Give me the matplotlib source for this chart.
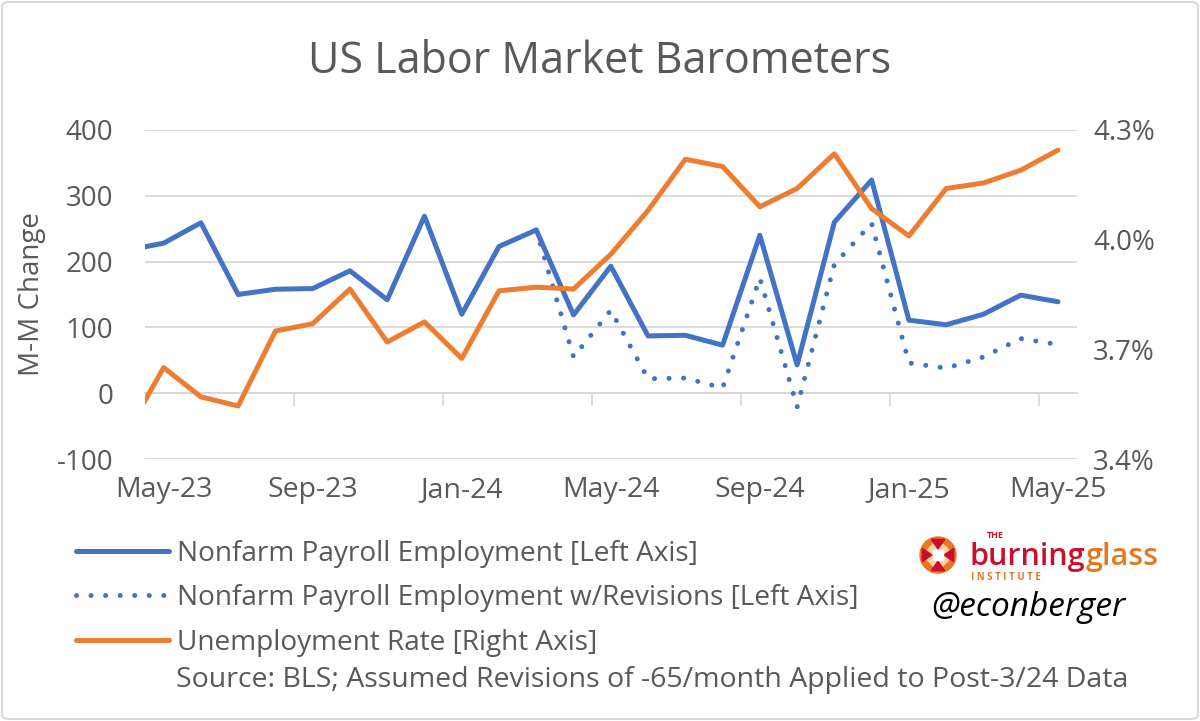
import matplotlib
matplotlib.use("Agg")
import matplotlib.pyplot as plt
from matplotlib.lines import Line2D
from matplotlib.patches import FancyBboxPatch, Circle, RegularPolygon, Polygon
import numpy as np

# data: Apr-23 .. May-25 (Apr-23 sits just outside the left edge)
months = ["Apr-23", "May-23", "Jun-23", "Jul-23", "Aug-23", "Sep-23", "Oct-23", "Nov-23",
          "Dec-23", "Jan-24", "Feb-24", "Mar-24", "Apr-24", "May-24", "Jun-24", "Jul-24",
          "Aug-24", "Sep-24", "Oct-24", "Nov-24", "Dec-24", "Jan-25", "Feb-25", "Mar-25",
          "Apr-25", "May-25"]
nfp = [217, 228, 259, 150, 158, 159, 186, 142, 269, 120, 223, 248, 119,
       193, 87, 88, 73, 240, 43, 260, 324, 111, 104, 120, 149, 139]
nfp_rev = [np.nan] * 11 + [248, 55, 126, 22, 23, 8, 175, -21, 196, 258, 46, 38, 55, 83, 74]
unemp = [3.47, 3.65, 3.57, 3.545, 3.75, 3.77, 3.865, 3.72, 3.775, 3.675, 3.86, 3.87, 3.865,
         3.96, 4.08, 4.22, 4.20, 4.09, 4.14, 4.235, 4.085, 4.01, 4.14, 4.155, 4.19, 4.245]
tick_labels = ["May-23", "Sep-23", "Jan-24", "May-24", "Sep-24", "Jan-25", "May-25"]

blue = "#4472C4"
orange = "#ED7D31"
grey_txt = "#595959"
grid_c = "#D9D9D9"

plt.rcParams['font.family'] = ['Open Sans', 'DejaVu Sans']
plt.rcParams['axes.unicode_minus'] = False

W, H = 1200, 721
fig = plt.figure(figsize=(W / 100, H / 100), dpi=100)

def px(x, y):
    return x / W, 1 - y / H

# chart border
fig.patches.append(FancyBboxPatch((2 / W, 2 / H), 1 - 4 / W, 1 - 4 / H,
                                  boxstyle="round,pad=0,rounding_size=0.006",
                                  transform=fig.transFigure, fill=False,
                                  edgecolor=grid_c, lw=1.5))

left, right, top, bottom = 145, 1076.6, 130, 459
ax = fig.add_axes([left / W, 1 - bottom / H, (right - left) / W, (bottom - top) / H])

x = np.arange(len(months)) - 1  # May-23 at 0

ax.plot(x, nfp, color=blue, lw=3.6, solid_joinstyle='round', solid_capstyle='round')
ax.plot(x, nfp_rev, color=blue, lw=3.6, linestyle=(0, (0.01, 2.9)), dash_capstyle='round')
ax.set_xlim(-0.5, len(months) - 1.5)
ax.set_ylim(-100, 400)
ax.set_yticks(range(-100, 401, 100))
ax.yaxis.grid(True, color=grid_c, lw=1.3)
ax.set_axisbelow(True)
for s in ax.spines.values():
    s.set_visible(False)
ax.tick_params(axis='y', length=0, pad=23, labelsize=20, labelcolor=grey_txt)
ax.set_xticks(np.arange(0, 25, 4), tick_labels)
ax.tick_params(axis='x', length=0, pad=12, labelsize=20.5, labelcolor=grey_txt)
ax.set_ylabel("M-M Change", fontsize=20, color=grey_txt)
ax.yaxis.set_label_coords(-0.106, 0.5)

# category axis line crosses at 0 with tick marks between categories
sec = ax.secondary_xaxis(0.2)
sec.set_xticks(np.arange(3.5, 24, 4))
sec.tick_params(length=9, width=1.3, color=grid_c, labelbottom=False)
sec.spines['bottom'].set_color(grid_c)
sec.spines['bottom'].set_linewidth(1.3)

ax2 = ax.twinx()
ax2.plot(x, unemp, color=orange, lw=3.6, solid_joinstyle='round', solid_capstyle='round')
ax2.set_ylim(3.4, 4.3)
ax2.set_yticks([3.4, 3.7, 4.0, 4.3])
ax2.set_yticklabels([f"{v:.1f}%" for v in [3.4, 3.7, 4.0, 4.3]])
ax2.tick_params(axis='y', length=0, pad=12, labelsize=20, labelcolor=grey_txt)
for s in ax2.spines.values():
    s.set_visible(False)

fig.text(*px(600, 62), "US Labor Market Barometers", ha='center', va='center',
         fontsize=31, color=grey_txt)

# legend
handles = [Line2D([], [], color=blue, lw=3.6, solid_capstyle='round'),
           Line2D([], [], color=blue, lw=3.6, linestyle=(0, (0.01, 2.9)), dash_capstyle='round'),
           Line2D([], [], color=orange, lw=3.6, solid_capstyle='round')]
names = ["Nonfarm Payroll Employment [Left Axis]",
         "Nonfarm Payroll Employment w/Revisions [Left Axis]",
         "Unemployment Rate [Right Axis]"]
fig.legend(handles, names, loc='upper left', bbox_to_anchor=px(76, 540), frameon=False,
           fontsize=20.2, labelcolor=grey_txt, handlelength=3.3, handletextpad=0.3,
           labelspacing=0.58, borderpad=0, borderaxespad=0)
fig.text(*px(176, 680), "Source: BLS; Assumed Revisions of -65/month Applied to Post-3/24 Data",
         ha='left', va='center', fontsize=20.5, color=grey_txt)

# logo
red_l, org_l = "#C8102E", "#E87722"
ex, ey = 938, H - 555
fig.patches.append(Circle((ex, ey), 18, transform=None, color=org_l))
fig.patches.append(RegularPolygon((ex, ey), 8, radius=12, orientation=np.pi / 8,
                                  transform=None, color="#FBD3A0"))
for ang in range(0, 360, 90):
    a = np.deg2rad(ang)
    tip = (ex + 6 * np.cos(a), ey + 6 * np.sin(a))
    b1 = (ex + 17 * np.cos(a + 0.4), ey + 17 * np.sin(a + 0.4))
    b2 = (ex + 17 * np.cos(a - 0.4), ey + 17 * np.sin(a - 0.4))
    fig.patches.append(Polygon([tip, b1, b2], transform=None, color=red_l))
fig.patches.append(RegularPolygon((ex, ey), 4, radius=7, orientation=np.pi / 4,
                                  transform=None, color="white"))
fig.text(*px(987, 536), "THE", fontsize=6.5, fontweight='bold', color=red_l, va='center')
t1 = fig.text(*px(969, 565), "burning", fontsize=22, fontweight='semibold', color=red_l,
              va='baseline')
renderer = fig.canvas.get_renderer()
bb = t1.get_window_extent(renderer)
fig.text(bb.x1 / W + 1 / W, 1 - 565 / H, "glass", fontsize=22, fontweight='semibold',
         color=org_l, va='baseline')
fig.text(*px(971, 577), "I N S T I T U T E", fontsize=7, fontweight='bold', color=org_l,
         va='center')
fig.text(*px(1028, 608), "@econberger", fontsize=24, style='italic', color="black",
         ha='center', va='center')

fig.savefig("out.png", dpi=100)
